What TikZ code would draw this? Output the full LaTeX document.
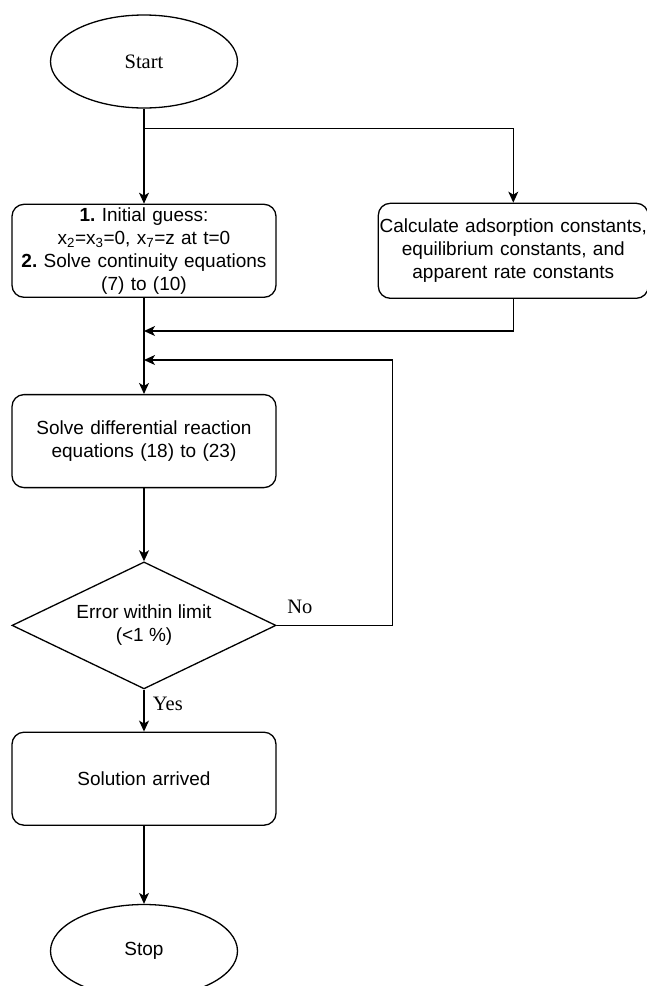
\documentclass[tikz,border=0pt]{standalone}
\usepackage{fontspec}
\setmainfont{Liberation Sans}
\newfontfamily\timesface{Liberation Serif}
\usetikzlibrary{arrows.meta,positioning,shapes.geometric}
\frenchspacing

\begin{document}
\begin{tikzpicture}[
    x=1pt, y=1pt,
    font=\fontsize{19}{23}\selectfont,
    line width=1.3pt,
    terminal/.style={draw, ellipse, minimum width=187pt, minimum height=93pt,
      inner sep=0pt},
    box/.style={draw, rounded corners=12pt, align=center, text width=264pt,
      minimum height=93pt, inner sep=0pt},
    test/.style={draw, diamond, align=center, aspect=2.08, minimum width=264pt,
      minimum height=127pt, inner sep=0pt},
    lbl/.style={font=\timesface\fontsize{20.5}{24}\selectfont},
    arrow/.style={-{Stealth[length=11pt,width=10pt,inset=3pt]}}
  ]
    \useasboundingbox (0,0) rectangle (647,-986);
    \node[terminal, lbl] (start) at (144,-61.5) {Start};
    \node[box, below=95pt of start] (init) {\textbf{1.} Initial guess:\\
      x\textsubscript{2}=x\textsubscript{3}=0, x\textsubscript{7}=z at t=0\\
      \textbf{2.} Solve continuity equations\\(7) to (10)};
    \node[box, text width=270pt, minimum height=95pt, right=101pt of init] (calc)
      {Calculate adsorption constants,\\equilibrium constants, and\\apparent rate constants};
    \node[box, below=96pt of init] (solve) {Solve differential reaction\\equations (18) to (23)};
    \node[test, below=73pt of solve] (check) {Error within limit\\(<1 \%)};
    \node[box, below=42pt of check] (done) {Solution arrived};
    \node[terminal, below=78pt of done] (stop) {Stop};
    \coordinate[below=20pt of start] (split);
    \coordinate (join) at (144,-331);
    \coordinate (loopin) at (144,-360);
    \draw[arrow] (start) -- (init);
    \draw[arrow] (split) -| (calc);
    \draw[arrow] (init) -- (solve);
    \draw[arrow] (calc) |- (join);
    \draw[arrow] (solve) -- (check);
    \draw[arrow] (check.east) -- node[lbl, above, pos=.2, yshift=8pt] {No} ++(116,0) |- (loopin);
    \draw[arrow] (check) -- node[lbl, right, pos=.35, xshift=5pt] {Yes} (done);
    \draw[arrow] (done) -- (stop);
  \end{tikzpicture}
\end{document}
